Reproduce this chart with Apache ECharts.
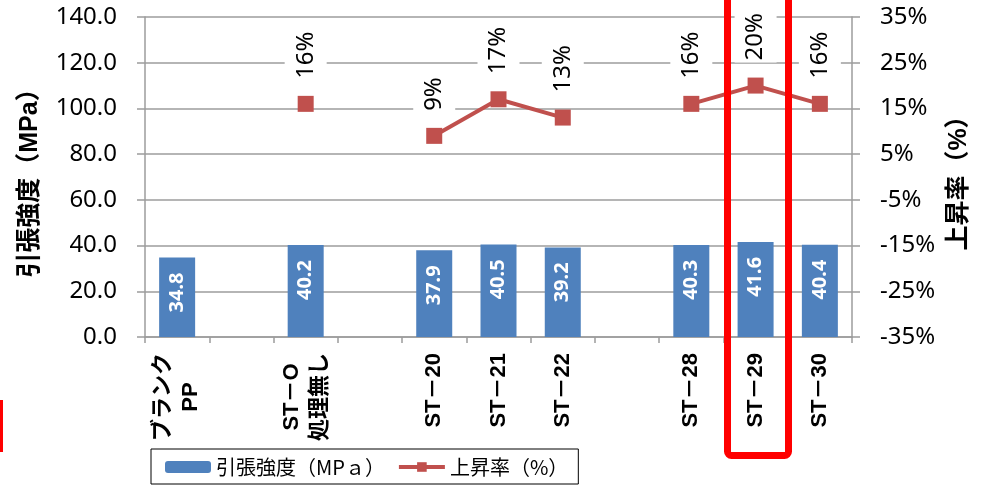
<!DOCTYPE html>
<html>
<head>
<meta charset="utf-8">
<script src="https://cdn.jsdelivr.net/npm/echarts@6/dist/echarts.min.js"></script>
<style>
  html, body { margin: 0; padding: 0; background: #fff; }
  #chart { width: 990px; height: 492px; }
</style>
</head>
<body>
<div id="chart"></div>
<script>
// Sample names along the x axis; blank slots leave the spacing between groups
const categories = ['ブランク\nPP', ' ', 'ST－O\n処理無し', '  ', 'ST－20', 'ST－21', 'ST－22', '   ', 'ST－28', 'ST－29', 'ST－30'];
// Tensile strength (MPa)
const strength = [34.8, null, 40.2, null, 37.9, 40.5, 39.2, null, 40.3, 41.6, 40.4];
// Increase relative to blank PP (%)
const increase = [null, null, 16, null, 9, 17, 13, null, 16, 20, 16];

const strengthName = '引張強度（MPａ）';
const increaseName = '上昇率（%）';

const NUM_FONT = '"Noto Sans", "Liberation Sans", sans-serif';
const JP_FONT = '"Liberation Sans", "Noto Sans CJK JP", sans-serif';
const GRID_GRAY = '#9c9c9c';
const BAR_BLUE = '#4F81BD';
const LINE_RED = '#C0504D';

const chart = echarts.init(document.getElementById('chart'));

chart.setOption({
  animation: false,
  backgroundColor: '#ffffff',
  grid: { left: 145, right: 138, top: 17, bottom: 155, containLabel: false },
  legend: {
    left: 151,
    top: 449,
    padding: [8, 10, 7, 14],
    borderColor: '#000',
    borderWidth: 1,
    itemGap: 12,
    itemWidth: 46,
    itemHeight: 12,
    lineStyle: { width: 4 },
    textStyle: { fontSize: 20, color: '#000', fontFamily: '"Noto Sans CJK JP", sans-serif' },
    data: [strengthName, increaseName]
  },
  xAxis: {
    type: 'category',
    data: categories,
    boundaryGap: true,
    axisLine: { lineStyle: { color: GRID_GRAY, width: 1.5 } },
    axisTick: { show: true, length: 6, lineStyle: { color: GRID_GRAY, width: 1.5 } },
    axisLabel: {
      interval: 0,
      rotate: 90,
      margin: 16,
      formatter: v => v.split('\n').map(s => '{c|' + s + '}').join('\n'),
      rich: {
        c: { align: 'center', fontSize: 22, fontWeight: 'bold', color: '#000', fontFamily: JP_FONT, lineHeight: 28 }
      }
    }
  },
  yAxis: [
    {
      type: 'value',
      min: 0,
      max: 140,
      interval: 20,
      name: '引張強度（MPa）',
      nameLocation: 'middle',
      nameGap: 102,
      nameRotate: 90,
      nameTextStyle: { fontSize: 25, fontWeight: 'bold', color: '#000', fontFamily: JP_FONT },
      axisLine: { show: true, lineStyle: { color: GRID_GRAY, width: 1.5 } },
      axisTick: { show: true, length: 8, lineStyle: { color: GRID_GRAY, width: 1.5 } },
      splitLine: { show: true, lineStyle: { color: GRID_GRAY, width: 1.5 } },
      axisLabel: {
        margin: 28,
        fontSize: 24,
        color: '#000',
        fontFamily: NUM_FONT,
        formatter: v => v.toFixed(1)
      }
    },
    {
      type: 'value',
      position: 'right',
      min: -35,
      max: 35,
      interval: 10,
      name: '上昇率（%）',
      nameLocation: 'middle',
      nameGap: 95,
      nameRotate: 90,
      nameTextStyle: { fontSize: 25, fontWeight: 'bold', color: '#000', fontFamily: JP_FONT },
      axisLine: { show: true, lineStyle: { color: GRID_GRAY, width: 1.5 } },
      axisTick: { show: true, length: 8, lineStyle: { color: GRID_GRAY, width: 1.5 } },
      splitLine: { show: false },
      axisLabel: {
        margin: 28,
        fontSize: 24,
        color: '#000',
        fontFamily: NUM_FONT,
        formatter: v => v + '%'
      }
    }
  ],
  series: [
    {
      name: strengthName,
      type: 'bar',
      yAxisIndex: 0,
      data: strength,
      barWidth: 36,
      itemStyle: { color: BAR_BLUE },
      label: {
        show: true,
        position: 'insideTop',
        distance: 15,
        rotate: 90,
        align: 'right',
        verticalAlign: 'middle',
        color: '#fff',
        fontSize: 20,
        fontWeight: 'bold',
        fontFamily: NUM_FONT,
        formatter: p => p.value.toFixed(1)
      }
    },
    {
      name: increaseName,
      type: 'line',
      yAxisIndex: 1,
      data: increase,
      connectNulls: false,
      symbol: 'rect',
      symbolSize: 16,
      showAllSymbol: true,
      z: 5,
      itemStyle: { color: LINE_RED },
      lineStyle: { color: LINE_RED, width: 4 },
      label: {
        show: true,
        position: 'top',
        distance: 15,
        rotate: 90,
        align: 'left',
        verticalAlign: 'middle',
        color: '#000',
        fontSize: 24,
        fontFamily: NUM_FONT,
        backgroundColor: '#fff',
        padding: [9, 2],
        formatter: p => p.value + '%'
      }
    }
  ],
  graphic: [
    {
      type: 'rect',
      z: 100,
      shape: { x: 727.5, y: -10, width: 61, height: 465.5, r: 4 },
      style: { fill: 'none', stroke: '#FF0000', lineWidth: 7 }
    },
    {
      type: 'rect',
      z: 100,
      shape: { x: 0, y: 400, width: 3, height: 52 },
      style: { fill: '#FF0000' }
    }
  ]
});
</script>
</body>
</html>
